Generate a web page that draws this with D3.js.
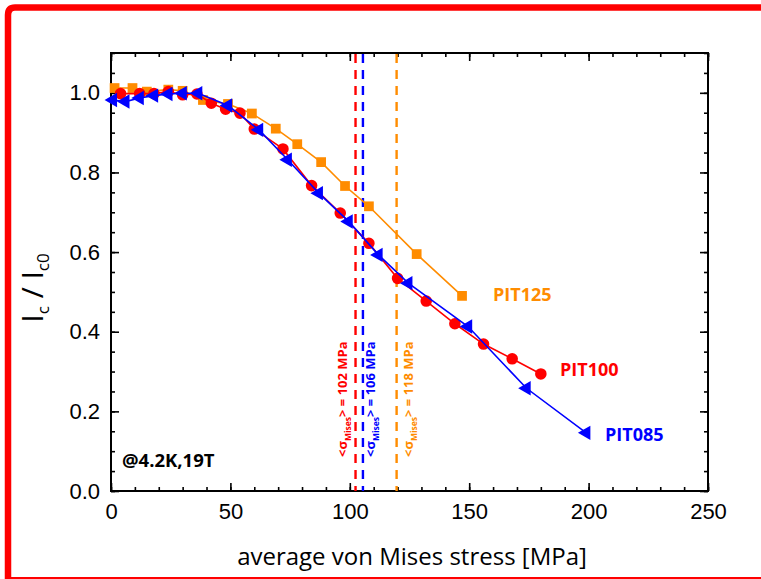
<!DOCTYPE html>
<html><head><meta charset="utf-8">
<script src="https://cdn.jsdelivr.net/npm/d3@7"></script>
<style>body{margin:0;background:#fff}svg{display:block}</style>
</head><body>
<svg id="c" width="761" height="579"></svg>
<script>
// ---- data ----
const pit125X = [1.5, 9, 15, 24, 30, 38.5, 49, 59, 69, 78, 88, 98, 108, 128, 147];
const pit125Y = [1.012, 1.012, 1.003, 1.008, 1.005, 0.982, 0.972, 0.948, 0.91, 0.871, 0.826, 0.766, 0.715, 0.595, 0.49];
const pit100X = [4, 12, 18, 24, 30, 36, 42, 48, 54, 60, 72, 84, 96, 108, 120, 132, 144, 156, 168, 180];
const pit100Y = [0.998, 0.998, 0.998, 1.003, 0.995, 0.997, 0.974, 0.959, 0.949, 0.909, 0.859, 0.767, 0.698, 0.622, 0.534, 0.477, 0.42, 0.369, 0.332, 0.294];
const pit085X = [0.8, 6, 12, 18, 24, 30, 36.5, 49, 62, 74, 87, 99.5, 112, 124.5, 149.5, 174, 199];
const pit085Y = [0.982, 0.978, 0.987, 0.993, 0.997, 0.999, 0.999, 0.968, 0.907, 0.832, 0.748, 0.677, 0.593, 0.522, 0.413, 0.258, 0.146];
const misesLineX = [102.4, 105.5, 119.6];
const misesLabel = ["102", "106", "118"];
const xTickLabels = [0, 50, 100, 150, 200, 250];
const yTickLabels = [0.0, 0.2, 0.4, 0.6, 0.8, 1.0];
const seriesNames = ["PIT125", "PIT100", "PIT085"];
// ----------------

const C = {o: "#ff8c00", r: "#ff0000", b: "#0000ff"};
const svg = d3.select("#c");
const x = d3.scaleLinear([0, 250], [111, 708]);
const y = d3.scaleLinear([0, 1.1], [491, 53]);

// red border
svg.append("path").attr("d", "M761,7.5 H15 Q8,7.5 8,15 V579").attr("fill", "none")
  .attr("stroke", "#ff0000").attr("stroke-width", 6.5);
svg.append("line").attr("x1", 8).attr("x2", 761).attr("y1", 578).attr("y2", 578)
  .attr("stroke", "#ff0000").attr("stroke-width", 2);

// axes ticks
const xMinor = d3.range(0, 251, 10);
const yMinor = d3.range(0, 1.1001, 0.05);
function addAxis(gen, tr, vals, size, labels) {
  const g = svg.append("g").attr("transform", tr).call(
    gen.tickValues(vals).tickSize(size).tickSizeOuter(0)
      .tickFormat(labels ? labels : ""));
  g.select(".domain").remove();
  g.selectAll(".tick line").attr("stroke", "#000").attr("stroke-width", 1.6);
  return g;
}
addAxis(d3.axisBottom(x), "translate(0,491)", xMinor, -4);
addAxis(d3.axisTop(x), "translate(0,53)", xMinor, -4);
addAxis(d3.axisLeft(y), "translate(111,0)", yMinor, -4);
addAxis(d3.axisRight(y), "translate(708,0)", yMinor, -4);
const gxb = addAxis(d3.axisBottom(x).tickPadding(12), "translate(0,491)", xTickLabels, -8, d3.format("d"));
addAxis(d3.axisTop(x), "translate(0,53)", xTickLabels, -8);
const gyl = addAxis(d3.axisLeft(y).tickPadding(11), "translate(111,0)", yTickLabels, -8, d3.format(".1f"));
addAxis(d3.axisRight(y), "translate(708,0)", yTickLabels, -8);
[gxb, gyl].forEach(g => g.selectAll("text").attr("font-family", "Liberation Sans, Arial, sans-serif")
  .attr("font-size", 22).attr("fill", "#000"));

// frame
svg.append("rect").attr("x", 111).attr("y", 53).attr("width", 597).attr("height", 438)
  .attr("fill", "none").attr("stroke", "#000").attr("stroke-width", 2);

// dashed mises lines
const lineCols = [C.r, C.b, C.o];
misesLineX.forEach((v, i) => {
  svg.append("line").attr("x1", x(v)).attr("x2", x(v)).attr("y1", y(1.1) + 1).attr("y2", y(0))
    .attr("stroke", lineCols[i]).attr("stroke-width", 2.4).attr("stroke-dasharray", "9,7");
});
// rotated labels
const labOff = [-9, 12, 16];
misesLineX.forEach((v, i) => {
  const px = x(v) + labOff[i], py = 457;
  const t = svg.append("text").attr("transform", `translate(${px},${py}) rotate(-90)`)
    .attr("font-family", "Open Sans, sans-serif").attr("font-weight", "bold")
    .attr("font-size", 13).attr("fill", lineCols[i]);
  t.append("tspan").text("<σ");
  t.append("tspan").attr("font-size", 8.5).attr("dy", 4).text("Mises");
  t.append("tspan").attr("dy", -4).text("> = " + misesLabel[i] + " MPa");
});

// series
const series = [
  {xs: pit125X, ys: pit125Y, col: C.o, sym: d3.symbolSquare, size: 95, rot: 0},
  {xs: pit100X, ys: pit100Y, col: C.r, sym: d3.symbolCircle, size: 105, rot: 0},
  {xs: pit085X, ys: pit085Y, col: C.b, sym: d3.symbolTriangle, size: 90, rot: -90},
];
const line = d3.line().x(d => x(d[0])).y(d => y(d[1]));
series.forEach(s => {
  const pts = s.xs.map((v, i) => [v, s.ys[i]]);
  svg.append("path").attr("d", line(pts)).attr("fill", "none").attr("stroke", s.col).attr("stroke-width", 1.6);
  svg.append("g").selectAll("path").data(pts).join("path")
    .attr("d", d3.symbol(s.sym, s.size))
    .attr("transform", d => `translate(${x(d[0])},${y(d[1])}) rotate(${s.rot})`)
    .attr("fill", s.col);
});

// series labels
const labelPos = [[493, 301], [560, 376], [605, 441]];
seriesNames.forEach((n, i) => {
  svg.append("text").attr("x", labelPos[i][0]).attr("y", labelPos[i][1])
    .attr("font-family", "Open Sans, sans-serif").attr("font-weight", "bold").attr("font-size", 18)
    .attr("fill", [C.o, C.r, C.b][i]).text(n);
});
svg.append("text").attr("x", 122).attr("y", 467)
  .attr("font-family", "Open Sans, sans-serif").attr("font-weight", "bold").attr("font-size", 18.5)
  .attr("fill", "#000").text("@4.2K,19T");

// axis titles
svg.append("text").attr("x", 412).attr("y", 565).attr("text-anchor", "middle")
  .attr("font-family", "Open Sans, sans-serif").attr("font-size", 24).attr("fill", "#000")
  .text("average von Mises stress [MPa]");
const yt = svg.append("text").attr("transform", "translate(43,288) rotate(-90)").attr("text-anchor", "middle")
  .attr("font-family", "Open Sans, sans-serif").attr("font-size", 30).attr("fill", "#000");
yt.append("tspan").text("I");
yt.append("tspan").attr("font-size", 17).attr("dy", 6).text("c");
yt.append("tspan").attr("dy", -6).text(" / I");
yt.append("tspan").attr("font-size", 17).attr("dy", 6).text("c0");
</script>
</body></html>
